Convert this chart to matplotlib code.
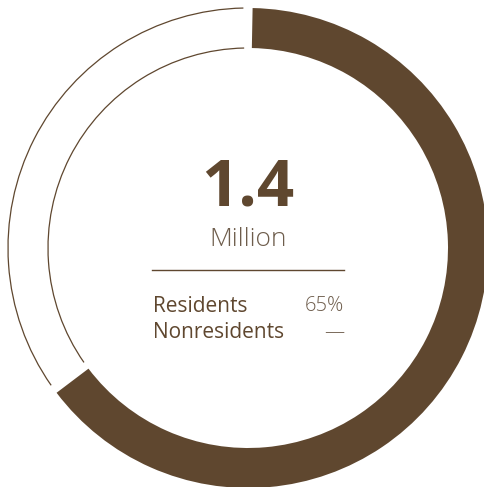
import matplotlib.pyplot as plt
from matplotlib.patches import Wedge, Arc

# data
total_label = "1.4"
unit_label = "Million"
categories = ["Residents", "Nonresidents"]
value_labels = ["65%", "\u2014"]
resident_share = 65  # percent

brown = "#5f472f"
light = "#6e5d4c"

plt.rcParams['font.family'] = ['Open Sans', 'DejaVu Sans']

fig = plt.figure(figsize=(4.84, 4.87), dpi=100)
ax = fig.add_axes([0, 0, 1, 1])
ax.set_xlim(0, 484)
ax.set_ylim(0, 487)
ax.axis("off")

cx, cy = 248, 239
r_out, r_in = 240, 200
gap = 1.1

# angles clockwise from top -> matplotlib angles
split = 360 * resident_share / 100
thick_start = 90 - split + gap
thick_end = 90 - gap
ax.add_patch(Wedge((cx, cy), r_out, thick_start, thick_end, width=r_out - r_in,
                   facecolor=brown, edgecolor="none"))

thin_start = 90 + gap
thin_end = 90 + (360 - split) - gap
for r in (r_out, r_in):
    ax.add_patch(Arc((cx, cy), 2 * r, 2 * r, theta1=thin_start, theta2=thin_end,
                     color=brown, lw=0.9))

# center text
ax.text(cx, 298, total_label, ha="center", va="center", fontsize=47,
        fontweight="bold", color=brown)
ax.text(cx, 248, unit_label, ha="center", va="center", fontsize=19,
        fontweight="light", color=light)
ax.plot([152, 344], [217, 217], color=brown, lw=1)

ys = [181, 154]
for name, val, y in zip(categories, value_labels, ys):
    ax.text(153, y, name, ha="left", va="center", fontsize=15, color=brown)
    ax.text(344, y, val, ha="right", va="center", fontsize=14.5,
            fontweight="light", color=light)

fig.savefig("out.png", dpi=100)
